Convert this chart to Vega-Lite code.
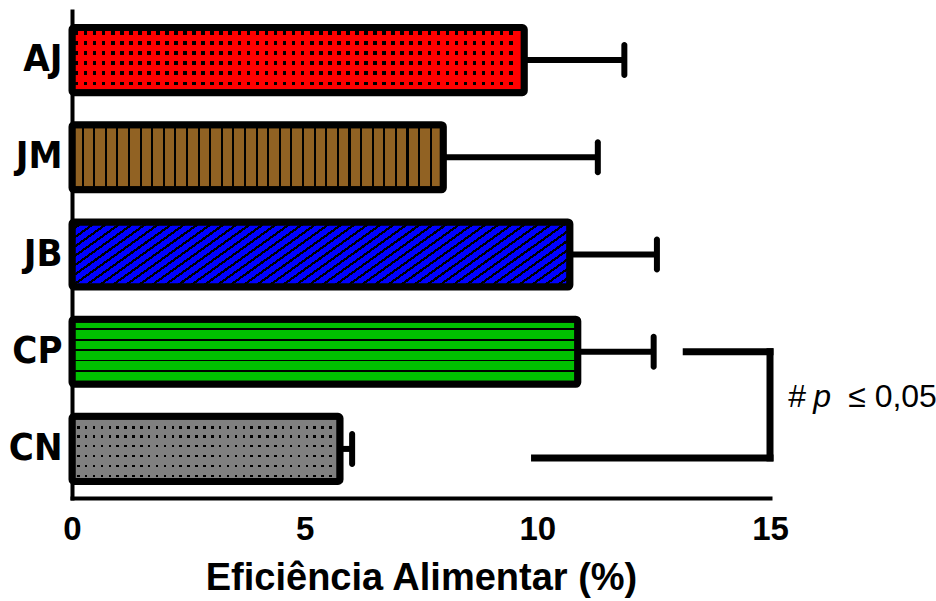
{
  "$schema": "https://vega.github.io/schema/vega-lite/v6.json",
  "width": 698,
  "height": 487,
  "autosize": "none",
  "padding": {"left": 72, "top": 11, "right": 166, "bottom": 103},
  "background": "white",
  "config": {"view": {"stroke": null}, "font": "Liberation Sans"},
  "datasets": {
    "bars": [
      {"group": "AJ", "value": 9.72, "err": 11.87},
      {"group": "JM", "value": 7.98, "err": 11.30},
      {"group": "JB", "value": 10.70, "err": 12.57},
      {"group": "CP", "value": 10.87, "err": 12.50},
      {"group": "CN", "value": 5.76, "err": 6.02}
    ],
    "bracket": [
      {"group": "CP", "x": 13.2, "x2": 15},
      {"group": "CN", "x": 9.94, "x2": 15}
    ],
    "side": [{"group": "CP", "group2": "CN", "x": 15}],
    "note": [
      {"group": "CN", "x": 15.39, "label": "#"},
      {"group": "CN", "x": 15.93, "label": "p"},
      {"group": "CN", "x": 16.68, "label": "≤ 0,05"}
    ]
  },
  "encoding": {
    "y": {
      "field": "group",
      "type": "nominal",
      "scale": {"domain": ["AJ", "JM", "JB", "CP", "CN"], "paddingInner": 0.33, "paddingOuter": 0.17},
      "axis": {
        "title": null,
        "ticks": false,
        "tickSize": 0,
        "labelPadding": 10,
        "labelFont": "DejaVu Sans Condensed",
        "labelFontSize": 38,
        "labelFontWeight": "bold",
        "labelColor": "black",
        "domainColor": "black",
        "domainWidth": 4,
        "domainCap": "square"
      }
    },
    "x": {
      "field": "value",
      "type": "quantitative",
      "title": "Eficiência Alimentar (%)",
      "scale": {"domain": [0, 15], "nice": false},
      "axis": {
        "values": [0, 5, 10, 15],
        "grid": false,
        "ticks": false,
        "tickSize": 0,
        "labelPadding": 15,
        "labelFontSize": 33,
        "labelFontWeight": "bold",
        "labelColor": "black",
        "labelFlush": false,
        "domainColor": "black",
        "domainWidth": 4,
        "domainCap": "square",
        "titleFontSize": 38,
        "titleFontWeight": "bold",
        "titleColor": "black",
        "titleBaseline": "alphabetic",
        "titleY": 91
      }
    }
  },
  "layer": [
    {
      "data": {"name": "bars"},
      "mark": {"type": "rule", "color": "black", "strokeWidth": 6},
      "encoding": {
        "x": {"field": "value", "type": "quantitative", "title": "Eficiência Alimentar (%)"},
        "x2": {"field": "err"}
      }
    },
    {
      "data": {"name": "bars"},
      "mark": {"type": "tick", "color": "black", "size": 36, "thickness": 6, "cornerRadius": 3, "opacity": 1},
      "encoding": {
        "x": {"field": "err", "type": "quantitative", "title": "Eficiência Alimentar (%)"}
      }
    },
    {
      "data": {"name": "bars"},
      "transform": [{"filter": "datum.group === 'AJ'"}],
      "mark": {
        "type": "bar", "strokeWidth": 0, "cornerRadius": 2,
        "fill": {
          "gradient": "linear", "x1": 0, "y1": 0, "x2": 0, "y2": 1,
          "stops": [
            {"offset": 0, "color": "#f00"},
            {"offset": 0.06, "color": "#f00"}, {"offset": 0.06, "color": "#000"}, {"offset": 0.12, "color": "#000"}, {"offset": 0.12, "color": "#f00"},
            {"offset": 0.213, "color": "#f00"}, {"offset": 0.213, "color": "#000"}, {"offset": 0.273, "color": "#000"}, {"offset": 0.273, "color": "#f00"},
            {"offset": 0.367, "color": "#f00"}, {"offset": 0.367, "color": "#000"}, {"offset": 0.427, "color": "#000"}, {"offset": 0.427, "color": "#f00"},
            {"offset": 0.52, "color": "#f00"}, {"offset": 0.52, "color": "#000"}, {"offset": 0.58, "color": "#000"}, {"offset": 0.58, "color": "#f00"},
            {"offset": 0.675, "color": "#f00"}, {"offset": 0.675, "color": "#000"}, {"offset": 0.735, "color": "#000"}, {"offset": 0.735, "color": "#f00"},
            {"offset": 0.83, "color": "#f00"}, {"offset": 0.83, "color": "#000"}, {"offset": 0.89, "color": "#000"}, {"offset": 0.89, "color": "#f00"},
            {"offset": 1, "color": "#f00"}
          ]
        }
      }
    },
    {
      "data": {"name": "bars"},
      "transform": [{"filter": "datum.group === 'AJ'"}],
      "mark": {
        "type": "bar", "stroke": "black", "strokeWidth": 7, "cornerRadius": 2,
        "fill": {
          "gradient": "linear", "x1": 0, "y1": 0, "x2": 1, "y2": 0,
          "stops": [
            {"offset": 0, "color": "#f00"},
            {"offset": 0.006, "color": "#f00"}, {"offset": 0.006, "color": "rgba(0,0,0,0)"}, {"offset": 0.014, "color": "rgba(0,0,0,0)"}, {"offset": 0.014, "color": "#f00"},
            {"offset": 0.026, "color": "#f00"}, {"offset": 0.026, "color": "rgba(0,0,0,0)"}, {"offset": 0.034, "color": "rgba(0,0,0,0)"}, {"offset": 0.034, "color": "#f00"},
            {"offset": 0.046, "color": "#f00"}, {"offset": 0.046, "color": "rgba(0,0,0,0)"}, {"offset": 0.054, "color": "rgba(0,0,0,0)"}, {"offset": 0.054, "color": "#f00"},
            {"offset": 0.066, "color": "#f00"}, {"offset": 0.066, "color": "rgba(0,0,0,0)"}, {"offset": 0.074, "color": "rgba(0,0,0,0)"}, {"offset": 0.074, "color": "#f00"},
            {"offset": 0.086, "color": "#f00"}, {"offset": 0.086, "color": "rgba(0,0,0,0)"}, {"offset": 0.094, "color": "rgba(0,0,0,0)"}, {"offset": 0.094, "color": "#f00"},
            {"offset": 0.106, "color": "#f00"}, {"offset": 0.106, "color": "rgba(0,0,0,0)"}, {"offset": 0.114, "color": "rgba(0,0,0,0)"}, {"offset": 0.114, "color": "#f00"},
            {"offset": 0.126, "color": "#f00"}, {"offset": 0.126, "color": "rgba(0,0,0,0)"}, {"offset": 0.134, "color": "rgba(0,0,0,0)"}, {"offset": 0.134, "color": "#f00"},
            {"offset": 0.146, "color": "#f00"}, {"offset": 0.146, "color": "rgba(0,0,0,0)"}, {"offset": 0.154, "color": "rgba(0,0,0,0)"}, {"offset": 0.154, "color": "#f00"},
            {"offset": 0.166, "color": "#f00"}, {"offset": 0.166, "color": "rgba(0,0,0,0)"}, {"offset": 0.174, "color": "rgba(0,0,0,0)"}, {"offset": 0.174, "color": "#f00"},
            {"offset": 0.186, "color": "#f00"}, {"offset": 0.186, "color": "rgba(0,0,0,0)"}, {"offset": 0.194, "color": "rgba(0,0,0,0)"}, {"offset": 0.194, "color": "#f00"},
            {"offset": 0.206, "color": "#f00"}, {"offset": 0.206, "color": "rgba(0,0,0,0)"}, {"offset": 0.214, "color": "rgba(0,0,0,0)"}, {"offset": 0.214, "color": "#f00"},
            {"offset": 0.226, "color": "#f00"}, {"offset": 0.226, "color": "rgba(0,0,0,0)"}, {"offset": 0.234, "color": "rgba(0,0,0,0)"}, {"offset": 0.234, "color": "#f00"},
            {"offset": 0.246, "color": "#f00"}, {"offset": 0.246, "color": "rgba(0,0,0,0)"}, {"offset": 0.254, "color": "rgba(0,0,0,0)"}, {"offset": 0.254, "color": "#f00"},
            {"offset": 0.266, "color": "#f00"}, {"offset": 0.266, "color": "rgba(0,0,0,0)"}, {"offset": 0.274, "color": "rgba(0,0,0,0)"}, {"offset": 0.274, "color": "#f00"},
            {"offset": 0.286, "color": "#f00"}, {"offset": 0.286, "color": "rgba(0,0,0,0)"}, {"offset": 0.294, "color": "rgba(0,0,0,0)"}, {"offset": 0.294, "color": "#f00"},
            {"offset": 0.306, "color": "#f00"}, {"offset": 0.306, "color": "rgba(0,0,0,0)"}, {"offset": 0.314, "color": "rgba(0,0,0,0)"}, {"offset": 0.314, "color": "#f00"},
            {"offset": 0.326, "color": "#f00"}, {"offset": 0.326, "color": "rgba(0,0,0,0)"}, {"offset": 0.334, "color": "rgba(0,0,0,0)"}, {"offset": 0.334, "color": "#f00"},
            {"offset": 0.346, "color": "#f00"}, {"offset": 0.346, "color": "rgba(0,0,0,0)"}, {"offset": 0.354, "color": "rgba(0,0,0,0)"}, {"offset": 0.354, "color": "#f00"},
            {"offset": 0.366, "color": "#f00"}, {"offset": 0.366, "color": "rgba(0,0,0,0)"}, {"offset": 0.374, "color": "rgba(0,0,0,0)"}, {"offset": 0.374, "color": "#f00"},
            {"offset": 0.386, "color": "#f00"}, {"offset": 0.386, "color": "rgba(0,0,0,0)"}, {"offset": 0.394, "color": "rgba(0,0,0,0)"}, {"offset": 0.394, "color": "#f00"},
            {"offset": 0.406, "color": "#f00"}, {"offset": 0.406, "color": "rgba(0,0,0,0)"}, {"offset": 0.414, "color": "rgba(0,0,0,0)"}, {"offset": 0.414, "color": "#f00"},
            {"offset": 0.426, "color": "#f00"}, {"offset": 0.426, "color": "rgba(0,0,0,0)"}, {"offset": 0.434, "color": "rgba(0,0,0,0)"}, {"offset": 0.434, "color": "#f00"},
            {"offset": 0.446, "color": "#f00"}, {"offset": 0.446, "color": "rgba(0,0,0,0)"}, {"offset": 0.454, "color": "rgba(0,0,0,0)"}, {"offset": 0.454, "color": "#f00"},
            {"offset": 0.466, "color": "#f00"}, {"offset": 0.466, "color": "rgba(0,0,0,0)"}, {"offset": 0.474, "color": "rgba(0,0,0,0)"}, {"offset": 0.474, "color": "#f00"},
            {"offset": 0.486, "color": "#f00"}, {"offset": 0.486, "color": "rgba(0,0,0,0)"}, {"offset": 0.494, "color": "rgba(0,0,0,0)"}, {"offset": 0.494, "color": "#f00"},
            {"offset": 0.506, "color": "#f00"}, {"offset": 0.506, "color": "rgba(0,0,0,0)"}, {"offset": 0.514, "color": "rgba(0,0,0,0)"}, {"offset": 0.514, "color": "#f00"},
            {"offset": 0.526, "color": "#f00"}, {"offset": 0.526, "color": "rgba(0,0,0,0)"}, {"offset": 0.534, "color": "rgba(0,0,0,0)"}, {"offset": 0.534, "color": "#f00"},
            {"offset": 0.546, "color": "#f00"}, {"offset": 0.546, "color": "rgba(0,0,0,0)"}, {"offset": 0.554, "color": "rgba(0,0,0,0)"}, {"offset": 0.554, "color": "#f00"},
            {"offset": 0.566, "color": "#f00"}, {"offset": 0.566, "color": "rgba(0,0,0,0)"}, {"offset": 0.574, "color": "rgba(0,0,0,0)"}, {"offset": 0.574, "color": "#f00"},
            {"offset": 0.586, "color": "#f00"}, {"offset": 0.586, "color": "rgba(0,0,0,0)"}, {"offset": 0.594, "color": "rgba(0,0,0,0)"}, {"offset": 0.594, "color": "#f00"},
            {"offset": 0.606, "color": "#f00"}, {"offset": 0.606, "color": "rgba(0,0,0,0)"}, {"offset": 0.614, "color": "rgba(0,0,0,0)"}, {"offset": 0.614, "color": "#f00"},
            {"offset": 0.626, "color": "#f00"}, {"offset": 0.626, "color": "rgba(0,0,0,0)"}, {"offset": 0.634, "color": "rgba(0,0,0,0)"}, {"offset": 0.634, "color": "#f00"},
            {"offset": 0.646, "color": "#f00"}, {"offset": 0.646, "color": "rgba(0,0,0,0)"}, {"offset": 0.654, "color": "rgba(0,0,0,0)"}, {"offset": 0.654, "color": "#f00"},
            {"offset": 0.666, "color": "#f00"}, {"offset": 0.666, "color": "rgba(0,0,0,0)"}, {"offset": 0.674, "color": "rgba(0,0,0,0)"}, {"offset": 0.674, "color": "#f00"},
            {"offset": 0.686, "color": "#f00"}, {"offset": 0.686, "color": "rgba(0,0,0,0)"}, {"offset": 0.694, "color": "rgba(0,0,0,0)"}, {"offset": 0.694, "color": "#f00"},
            {"offset": 0.706, "color": "#f00"}, {"offset": 0.706, "color": "rgba(0,0,0,0)"}, {"offset": 0.714, "color": "rgba(0,0,0,0)"}, {"offset": 0.714, "color": "#f00"},
            {"offset": 0.726, "color": "#f00"}, {"offset": 0.726, "color": "rgba(0,0,0,0)"}, {"offset": 0.734, "color": "rgba(0,0,0,0)"}, {"offset": 0.734, "color": "#f00"},
            {"offset": 0.746, "color": "#f00"}, {"offset": 0.746, "color": "rgba(0,0,0,0)"}, {"offset": 0.754, "color": "rgba(0,0,0,0)"}, {"offset": 0.754, "color": "#f00"},
            {"offset": 0.766, "color": "#f00"}, {"offset": 0.766, "color": "rgba(0,0,0,0)"}, {"offset": 0.774, "color": "rgba(0,0,0,0)"}, {"offset": 0.774, "color": "#f00"},
            {"offset": 0.786, "color": "#f00"}, {"offset": 0.786, "color": "rgba(0,0,0,0)"}, {"offset": 0.794, "color": "rgba(0,0,0,0)"}, {"offset": 0.794, "color": "#f00"},
            {"offset": 0.806, "color": "#f00"}, {"offset": 0.806, "color": "rgba(0,0,0,0)"}, {"offset": 0.814, "color": "rgba(0,0,0,0)"}, {"offset": 0.814, "color": "#f00"},
            {"offset": 0.826, "color": "#f00"}, {"offset": 0.826, "color": "rgba(0,0,0,0)"}, {"offset": 0.834, "color": "rgba(0,0,0,0)"}, {"offset": 0.834, "color": "#f00"},
            {"offset": 0.846, "color": "#f00"}, {"offset": 0.846, "color": "rgba(0,0,0,0)"}, {"offset": 0.854, "color": "rgba(0,0,0,0)"}, {"offset": 0.854, "color": "#f00"},
            {"offset": 0.866, "color": "#f00"}, {"offset": 0.866, "color": "rgba(0,0,0,0)"}, {"offset": 0.874, "color": "rgba(0,0,0,0)"}, {"offset": 0.874, "color": "#f00"},
            {"offset": 0.886, "color": "#f00"}, {"offset": 0.886, "color": "rgba(0,0,0,0)"}, {"offset": 0.894, "color": "rgba(0,0,0,0)"}, {"offset": 0.894, "color": "#f00"},
            {"offset": 0.906, "color": "#f00"}, {"offset": 0.906, "color": "rgba(0,0,0,0)"}, {"offset": 0.914, "color": "rgba(0,0,0,0)"}, {"offset": 0.914, "color": "#f00"},
            {"offset": 0.926, "color": "#f00"}, {"offset": 0.926, "color": "rgba(0,0,0,0)"}, {"offset": 0.934, "color": "rgba(0,0,0,0)"}, {"offset": 0.934, "color": "#f00"},
            {"offset": 0.946, "color": "#f00"}, {"offset": 0.946, "color": "rgba(0,0,0,0)"}, {"offset": 0.954, "color": "rgba(0,0,0,0)"}, {"offset": 0.954, "color": "#f00"},
            {"offset": 0.966, "color": "#f00"}, {"offset": 0.966, "color": "rgba(0,0,0,0)"}, {"offset": 0.974, "color": "rgba(0,0,0,0)"}, {"offset": 0.974, "color": "#f00"},
            {"offset": 1, "color": "#f00"}
          ]
        }
      }
    },
    {
      "data": {"name": "bars"},
      "transform": [{"filter": "datum.group === 'JM'"}],
      "mark": {
        "type": "bar", "stroke": "black", "strokeWidth": 7, "cornerRadius": 2,
        "fill": {
          "gradient": "linear", "x1": 0, "y1": 0, "x2": 1, "y2": 0,
          "stops": [
            {"offset": 0, "color": "#916223"},
            {"offset": 0.02575, "color": "#916223"}, {"offset": 0.02575, "color": "#000"}, {"offset": 0.03125, "color": "#000"}, {"offset": 0.03125, "color": "#916223"},
            {"offset": 0.057, "color": "#916223"}, {"offset": 0.057, "color": "#000"}, {"offset": 0.0625, "color": "#000"}, {"offset": 0.0625, "color": "#916223"},
            {"offset": 0.08825, "color": "#916223"}, {"offset": 0.08825, "color": "#000"}, {"offset": 0.09375, "color": "#000"}, {"offset": 0.09375, "color": "#916223"},
            {"offset": 0.1195, "color": "#916223"}, {"offset": 0.1195, "color": "#000"}, {"offset": 0.125, "color": "#000"}, {"offset": 0.125, "color": "#916223"},
            {"offset": 0.15075, "color": "#916223"}, {"offset": 0.15075, "color": "#000"}, {"offset": 0.15625, "color": "#000"}, {"offset": 0.15625, "color": "#916223"},
            {"offset": 0.182, "color": "#916223"}, {"offset": 0.182, "color": "#000"}, {"offset": 0.1875, "color": "#000"}, {"offset": 0.1875, "color": "#916223"},
            {"offset": 0.21325, "color": "#916223"}, {"offset": 0.21325, "color": "#000"}, {"offset": 0.21875, "color": "#000"}, {"offset": 0.21875, "color": "#916223"},
            {"offset": 0.2445, "color": "#916223"}, {"offset": 0.2445, "color": "#000"}, {"offset": 0.25, "color": "#000"}, {"offset": 0.25, "color": "#916223"},
            {"offset": 0.27575, "color": "#916223"}, {"offset": 0.27575, "color": "#000"}, {"offset": 0.28125, "color": "#000"}, {"offset": 0.28125, "color": "#916223"},
            {"offset": 0.307, "color": "#916223"}, {"offset": 0.307, "color": "#000"}, {"offset": 0.3125, "color": "#000"}, {"offset": 0.3125, "color": "#916223"},
            {"offset": 0.33825, "color": "#916223"}, {"offset": 0.33825, "color": "#000"}, {"offset": 0.34375, "color": "#000"}, {"offset": 0.34375, "color": "#916223"},
            {"offset": 0.3695, "color": "#916223"}, {"offset": 0.3695, "color": "#000"}, {"offset": 0.375, "color": "#000"}, {"offset": 0.375, "color": "#916223"},
            {"offset": 0.40075, "color": "#916223"}, {"offset": 0.40075, "color": "#000"}, {"offset": 0.40625, "color": "#000"}, {"offset": 0.40625, "color": "#916223"},
            {"offset": 0.432, "color": "#916223"}, {"offset": 0.432, "color": "#000"}, {"offset": 0.4375, "color": "#000"}, {"offset": 0.4375, "color": "#916223"},
            {"offset": 0.46325, "color": "#916223"}, {"offset": 0.46325, "color": "#000"}, {"offset": 0.46875, "color": "#000"}, {"offset": 0.46875, "color": "#916223"},
            {"offset": 0.4945, "color": "#916223"}, {"offset": 0.4945, "color": "#000"}, {"offset": 0.5, "color": "#000"}, {"offset": 0.5, "color": "#916223"},
            {"offset": 0.52575, "color": "#916223"}, {"offset": 0.52575, "color": "#000"}, {"offset": 0.53125, "color": "#000"}, {"offset": 0.53125, "color": "#916223"},
            {"offset": 0.557, "color": "#916223"}, {"offset": 0.557, "color": "#000"}, {"offset": 0.5625, "color": "#000"}, {"offset": 0.5625, "color": "#916223"},
            {"offset": 0.58825, "color": "#916223"}, {"offset": 0.58825, "color": "#000"}, {"offset": 0.59375, "color": "#000"}, {"offset": 0.59375, "color": "#916223"},
            {"offset": 0.6195, "color": "#916223"}, {"offset": 0.6195, "color": "#000"}, {"offset": 0.625, "color": "#000"}, {"offset": 0.625, "color": "#916223"},
            {"offset": 0.65075, "color": "#916223"}, {"offset": 0.65075, "color": "#000"}, {"offset": 0.65625, "color": "#000"}, {"offset": 0.65625, "color": "#916223"},
            {"offset": 0.682, "color": "#916223"}, {"offset": 0.682, "color": "#000"}, {"offset": 0.6875, "color": "#000"}, {"offset": 0.6875, "color": "#916223"},
            {"offset": 0.71325, "color": "#916223"}, {"offset": 0.71325, "color": "#000"}, {"offset": 0.71875, "color": "#000"}, {"offset": 0.71875, "color": "#916223"},
            {"offset": 0.7445, "color": "#916223"}, {"offset": 0.7445, "color": "#000"}, {"offset": 0.75, "color": "#000"}, {"offset": 0.75, "color": "#916223"},
            {"offset": 0.77575, "color": "#916223"}, {"offset": 0.77575, "color": "#000"}, {"offset": 0.78125, "color": "#000"}, {"offset": 0.78125, "color": "#916223"},
            {"offset": 0.807, "color": "#916223"}, {"offset": 0.807, "color": "#000"}, {"offset": 0.8125, "color": "#000"}, {"offset": 0.8125, "color": "#916223"},
            {"offset": 0.83825, "color": "#916223"}, {"offset": 0.83825, "color": "#000"}, {"offset": 0.84375, "color": "#000"}, {"offset": 0.84375, "color": "#916223"},
            {"offset": 0.8695, "color": "#916223"}, {"offset": 0.8695, "color": "#000"}, {"offset": 0.875, "color": "#000"}, {"offset": 0.875, "color": "#916223"},
            {"offset": 0.90075, "color": "#916223"}, {"offset": 0.90075, "color": "#000"}, {"offset": 0.90625, "color": "#000"}, {"offset": 0.90625, "color": "#916223"},
            {"offset": 0.932, "color": "#916223"}, {"offset": 0.932, "color": "#000"}, {"offset": 0.9375, "color": "#000"}, {"offset": 0.9375, "color": "#916223"},
            {"offset": 0.96325, "color": "#916223"}, {"offset": 0.96325, "color": "#000"}, {"offset": 0.96875, "color": "#000"}, {"offset": 0.96875, "color": "#916223"},
            {"offset": 1, "color": "#916223"}
          ]
        }
      }
    },
    {
      "data": {"name": "bars"},
      "transform": [{"filter": "datum.group === 'JB'"}],
      "mark": {
        "type": "bar", "stroke": "black", "strokeWidth": 7, "cornerRadius": 2,
        "fill": {
          "gradient": "linear", "x1": 0, "y1": 0, "x2": 1.1449, "y2": 0.2099,
          "stops": [
            {"offset": 0, "color": "#0000ff"},
            {"offset": 0.01572, "color": "#0000ff"}, {"offset": 0.01572, "color": "#000"}, {"offset": 0.02222, "color": "#000"}, {"offset": 0.02222, "color": "#0000ff"},
            {"offset": 0.03794, "color": "#0000ff"}, {"offset": 0.03794, "color": "#000"}, {"offset": 0.04444, "color": "#000"}, {"offset": 0.04444, "color": "#0000ff"},
            {"offset": 0.06017, "color": "#0000ff"}, {"offset": 0.06017, "color": "#000"}, {"offset": 0.06667, "color": "#000"}, {"offset": 0.06667, "color": "#0000ff"},
            {"offset": 0.08239, "color": "#0000ff"}, {"offset": 0.08239, "color": "#000"}, {"offset": 0.08889, "color": "#000"}, {"offset": 0.08889, "color": "#0000ff"},
            {"offset": 0.10461, "color": "#0000ff"}, {"offset": 0.10461, "color": "#000"}, {"offset": 0.11111, "color": "#000"}, {"offset": 0.11111, "color": "#0000ff"},
            {"offset": 0.12683, "color": "#0000ff"}, {"offset": 0.12683, "color": "#000"}, {"offset": 0.13333, "color": "#000"}, {"offset": 0.13333, "color": "#0000ff"},
            {"offset": 0.14906, "color": "#0000ff"}, {"offset": 0.14906, "color": "#000"}, {"offset": 0.15556, "color": "#000"}, {"offset": 0.15556, "color": "#0000ff"},
            {"offset": 0.17128, "color": "#0000ff"}, {"offset": 0.17128, "color": "#000"}, {"offset": 0.17778, "color": "#000"}, {"offset": 0.17778, "color": "#0000ff"},
            {"offset": 0.1935, "color": "#0000ff"}, {"offset": 0.1935, "color": "#000"}, {"offset": 0.2, "color": "#000"}, {"offset": 0.2, "color": "#0000ff"},
            {"offset": 0.21572, "color": "#0000ff"}, {"offset": 0.21572, "color": "#000"}, {"offset": 0.22222, "color": "#000"}, {"offset": 0.22222, "color": "#0000ff"},
            {"offset": 0.23794, "color": "#0000ff"}, {"offset": 0.23794, "color": "#000"}, {"offset": 0.24444, "color": "#000"}, {"offset": 0.24444, "color": "#0000ff"},
            {"offset": 0.26017, "color": "#0000ff"}, {"offset": 0.26017, "color": "#000"}, {"offset": 0.26667, "color": "#000"}, {"offset": 0.26667, "color": "#0000ff"},
            {"offset": 0.28239, "color": "#0000ff"}, {"offset": 0.28239, "color": "#000"}, {"offset": 0.28889, "color": "#000"}, {"offset": 0.28889, "color": "#0000ff"},
            {"offset": 0.30461, "color": "#0000ff"}, {"offset": 0.30461, "color": "#000"}, {"offset": 0.31111, "color": "#000"}, {"offset": 0.31111, "color": "#0000ff"},
            {"offset": 0.32683, "color": "#0000ff"}, {"offset": 0.32683, "color": "#000"}, {"offset": 0.33333, "color": "#000"}, {"offset": 0.33333, "color": "#0000ff"},
            {"offset": 0.34906, "color": "#0000ff"}, {"offset": 0.34906, "color": "#000"}, {"offset": 0.35556, "color": "#000"}, {"offset": 0.35556, "color": "#0000ff"},
            {"offset": 0.37128, "color": "#0000ff"}, {"offset": 0.37128, "color": "#000"}, {"offset": 0.37778, "color": "#000"}, {"offset": 0.37778, "color": "#0000ff"},
            {"offset": 0.3935, "color": "#0000ff"}, {"offset": 0.3935, "color": "#000"}, {"offset": 0.4, "color": "#000"}, {"offset": 0.4, "color": "#0000ff"},
            {"offset": 0.41572, "color": "#0000ff"}, {"offset": 0.41572, "color": "#000"}, {"offset": 0.42222, "color": "#000"}, {"offset": 0.42222, "color": "#0000ff"},
            {"offset": 0.43794, "color": "#0000ff"}, {"offset": 0.43794, "color": "#000"}, {"offset": 0.44444, "color": "#000"}, {"offset": 0.44444, "color": "#0000ff"},
            {"offset": 0.46017, "color": "#0000ff"}, {"offset": 0.46017, "color": "#000"}, {"offset": 0.46667, "color": "#000"}, {"offset": 0.46667, "color": "#0000ff"},
            {"offset": 0.48239, "color": "#0000ff"}, {"offset": 0.48239, "color": "#000"}, {"offset": 0.48889, "color": "#000"}, {"offset": 0.48889, "color": "#0000ff"},
            {"offset": 0.50461, "color": "#0000ff"}, {"offset": 0.50461, "color": "#000"}, {"offset": 0.51111, "color": "#000"}, {"offset": 0.51111, "color": "#0000ff"},
            {"offset": 0.52683, "color": "#0000ff"}, {"offset": 0.52683, "color": "#000"}, {"offset": 0.53333, "color": "#000"}, {"offset": 0.53333, "color": "#0000ff"},
            {"offset": 0.54906, "color": "#0000ff"}, {"offset": 0.54906, "color": "#000"}, {"offset": 0.55556, "color": "#000"}, {"offset": 0.55556, "color": "#0000ff"},
            {"offset": 0.57128, "color": "#0000ff"}, {"offset": 0.57128, "color": "#000"}, {"offset": 0.57778, "color": "#000"}, {"offset": 0.57778, "color": "#0000ff"},
            {"offset": 0.5935, "color": "#0000ff"}, {"offset": 0.5935, "color": "#000"}, {"offset": 0.6, "color": "#000"}, {"offset": 0.6, "color": "#0000ff"},
            {"offset": 0.61572, "color": "#0000ff"}, {"offset": 0.61572, "color": "#000"}, {"offset": 0.62222, "color": "#000"}, {"offset": 0.62222, "color": "#0000ff"},
            {"offset": 0.63794, "color": "#0000ff"}, {"offset": 0.63794, "color": "#000"}, {"offset": 0.64444, "color": "#000"}, {"offset": 0.64444, "color": "#0000ff"},
            {"offset": 0.66017, "color": "#0000ff"}, {"offset": 0.66017, "color": "#000"}, {"offset": 0.66667, "color": "#000"}, {"offset": 0.66667, "color": "#0000ff"},
            {"offset": 0.68239, "color": "#0000ff"}, {"offset": 0.68239, "color": "#000"}, {"offset": 0.68889, "color": "#000"}, {"offset": 0.68889, "color": "#0000ff"},
            {"offset": 0.70461, "color": "#0000ff"}, {"offset": 0.70461, "color": "#000"}, {"offset": 0.71111, "color": "#000"}, {"offset": 0.71111, "color": "#0000ff"},
            {"offset": 0.72683, "color": "#0000ff"}, {"offset": 0.72683, "color": "#000"}, {"offset": 0.73333, "color": "#000"}, {"offset": 0.73333, "color": "#0000ff"},
            {"offset": 0.74906, "color": "#0000ff"}, {"offset": 0.74906, "color": "#000"}, {"offset": 0.75556, "color": "#000"}, {"offset": 0.75556, "color": "#0000ff"},
            {"offset": 0.77128, "color": "#0000ff"}, {"offset": 0.77128, "color": "#000"}, {"offset": 0.77778, "color": "#000"}, {"offset": 0.77778, "color": "#0000ff"},
            {"offset": 0.7935, "color": "#0000ff"}, {"offset": 0.7935, "color": "#000"}, {"offset": 0.8, "color": "#000"}, {"offset": 0.8, "color": "#0000ff"},
            {"offset": 0.81572, "color": "#0000ff"}, {"offset": 0.81572, "color": "#000"}, {"offset": 0.82222, "color": "#000"}, {"offset": 0.82222, "color": "#0000ff"},
            {"offset": 0.83794, "color": "#0000ff"}, {"offset": 0.83794, "color": "#000"}, {"offset": 0.84444, "color": "#000"}, {"offset": 0.84444, "color": "#0000ff"},
            {"offset": 0.86017, "color": "#0000ff"}, {"offset": 0.86017, "color": "#000"}, {"offset": 0.86667, "color": "#000"}, {"offset": 0.86667, "color": "#0000ff"},
            {"offset": 0.88239, "color": "#0000ff"}, {"offset": 0.88239, "color": "#000"}, {"offset": 0.88889, "color": "#000"}, {"offset": 0.88889, "color": "#0000ff"},
            {"offset": 0.90461, "color": "#0000ff"}, {"offset": 0.90461, "color": "#000"}, {"offset": 0.91111, "color": "#000"}, {"offset": 0.91111, "color": "#0000ff"},
            {"offset": 0.92683, "color": "#0000ff"}, {"offset": 0.92683, "color": "#000"}, {"offset": 0.93333, "color": "#000"}, {"offset": 0.93333, "color": "#0000ff"},
            {"offset": 0.94906, "color": "#0000ff"}, {"offset": 0.94906, "color": "#000"}, {"offset": 0.95556, "color": "#000"}, {"offset": 0.95556, "color": "#0000ff"},
            {"offset": 0.97128, "color": "#0000ff"}, {"offset": 0.97128, "color": "#000"}, {"offset": 0.97778, "color": "#000"}, {"offset": 0.97778, "color": "#0000ff"},
            {"offset": 1, "color": "#0000ff"}
          ]
        }
      }
    },
    {
      "data": {"name": "bars"},
      "transform": [{"filter": "datum.group === 'CP'"}],
      "mark": {
        "type": "bar", "stroke": "black", "strokeWidth": 7, "cornerRadius": 2,
        "fill": {
          "gradient": "linear", "x1": 0, "y1": 0, "x2": 0, "y2": 1,
          "stops": [
            {"offset": 0, "color": "#00c000"},
            {"offset": 0.14, "color": "#00c000"}, {"offset": 0.14, "color": "#000"}, {"offset": 0.17, "color": "#000"}, {"offset": 0.17, "color": "#00c000"},
            {"offset": 0.30, "color": "#00c000"}, {"offset": 0.30, "color": "#000"}, {"offset": 0.33, "color": "#000"}, {"offset": 0.33, "color": "#00c000"},
            {"offset": 0.46, "color": "#00c000"}, {"offset": 0.46, "color": "#000"}, {"offset": 0.49, "color": "#000"}, {"offset": 0.49, "color": "#00c000"},
            {"offset": 0.62, "color": "#00c000"}, {"offset": 0.62, "color": "#000"}, {"offset": 0.65, "color": "#000"}, {"offset": 0.65, "color": "#00c000"},
            {"offset": 0.78, "color": "#00c000"}, {"offset": 0.78, "color": "#000"}, {"offset": 0.81, "color": "#000"}, {"offset": 0.81, "color": "#00c000"},
            {"offset": 1, "color": "#00c000"}
          ]
        }
      }
    },
    {
      "data": {"name": "bars"},
      "transform": [{"filter": "datum.group === 'CN'"}],
      "mark": {
        "type": "bar", "strokeWidth": 0, "cornerRadius": 2,
        "fill": {
          "gradient": "linear", "x1": 0, "y1": 0, "x2": 0, "y2": 1,
          "stops": [
            {"offset": 0, "color": "#808080"},
            {"offset": 0.155, "color": "#808080"}, {"offset": 0.155, "color": "#000"}, {"offset": 0.195, "color": "#000"}, {"offset": 0.195, "color": "#808080"},
            {"offset": 0.294, "color": "#808080"}, {"offset": 0.294, "color": "#000"}, {"offset": 0.334, "color": "#000"}, {"offset": 0.334, "color": "#808080"},
            {"offset": 0.437, "color": "#808080"}, {"offset": 0.437, "color": "#000"}, {"offset": 0.477, "color": "#000"}, {"offset": 0.477, "color": "#808080"},
            {"offset": 0.586, "color": "#808080"}, {"offset": 0.586, "color": "#000"}, {"offset": 0.626, "color": "#000"}, {"offset": 0.626, "color": "#808080"},
            {"offset": 0.74, "color": "#808080"}, {"offset": 0.74, "color": "#000"}, {"offset": 0.78, "color": "#000"}, {"offset": 0.78, "color": "#808080"},
            {"offset": 0.894, "color": "#808080"}, {"offset": 0.894, "color": "#000"}, {"offset": 0.934, "color": "#000"}, {"offset": 0.934, "color": "#808080"},
            {"offset": 1, "color": "#808080"}
          ]
        }
      }
    },
    {
      "data": {"name": "bars"},
      "transform": [{"filter": "datum.group === 'CN'"}],
      "mark": {
        "type": "bar", "stroke": "black", "strokeWidth": 7, "cornerRadius": 2,
        "fill": {
          "gradient": "linear", "x1": 0, "y1": 0, "x2": 1, "y2": 0,
          "stops": [
            {"offset": 0, "color": "#808080"},
            {"offset": 0.0188, "color": "#808080"}, {"offset": 0.0188, "color": "rgba(0,0,0,0)"}, {"offset": 0.0282, "color": "rgba(0,0,0,0)"}, {"offset": 0.0282, "color": "#808080"},
            {"offset": 0.0482, "color": "#808080"}, {"offset": 0.0482, "color": "rgba(0,0,0,0)"}, {"offset": 0.0576, "color": "rgba(0,0,0,0)"}, {"offset": 0.0576, "color": "#808080"},
            {"offset": 0.0776, "color": "#808080"}, {"offset": 0.0776, "color": "rgba(0,0,0,0)"}, {"offset": 0.087, "color": "rgba(0,0,0,0)"}, {"offset": 0.087, "color": "#808080"},
            {"offset": 0.107, "color": "#808080"}, {"offset": 0.107, "color": "rgba(0,0,0,0)"}, {"offset": 0.1164, "color": "rgba(0,0,0,0)"}, {"offset": 0.1164, "color": "#808080"},
            {"offset": 0.1364, "color": "#808080"}, {"offset": 0.1364, "color": "rgba(0,0,0,0)"}, {"offset": 0.1458, "color": "rgba(0,0,0,0)"}, {"offset": 0.1458, "color": "#808080"},
            {"offset": 0.1658, "color": "#808080"}, {"offset": 0.1658, "color": "rgba(0,0,0,0)"}, {"offset": 0.1752, "color": "rgba(0,0,0,0)"}, {"offset": 0.1752, "color": "#808080"},
            {"offset": 0.1952, "color": "#808080"}, {"offset": 0.1952, "color": "rgba(0,0,0,0)"}, {"offset": 0.2046, "color": "rgba(0,0,0,0)"}, {"offset": 0.2046, "color": "#808080"},
            {"offset": 0.2246, "color": "#808080"}, {"offset": 0.2246, "color": "rgba(0,0,0,0)"}, {"offset": 0.234, "color": "rgba(0,0,0,0)"}, {"offset": 0.234, "color": "#808080"},
            {"offset": 0.254, "color": "#808080"}, {"offset": 0.254, "color": "rgba(0,0,0,0)"}, {"offset": 0.2634, "color": "rgba(0,0,0,0)"}, {"offset": 0.2634, "color": "#808080"},
            {"offset": 0.2834, "color": "#808080"}, {"offset": 0.2834, "color": "rgba(0,0,0,0)"}, {"offset": 0.2928, "color": "rgba(0,0,0,0)"}, {"offset": 0.2928, "color": "#808080"},
            {"offset": 0.3128, "color": "#808080"}, {"offset": 0.3128, "color": "rgba(0,0,0,0)"}, {"offset": 0.3222, "color": "rgba(0,0,0,0)"}, {"offset": 0.3222, "color": "#808080"},
            {"offset": 0.3422, "color": "#808080"}, {"offset": 0.3422, "color": "rgba(0,0,0,0)"}, {"offset": 0.3516, "color": "rgba(0,0,0,0)"}, {"offset": 0.3516, "color": "#808080"},
            {"offset": 0.3716, "color": "#808080"}, {"offset": 0.3716, "color": "rgba(0,0,0,0)"}, {"offset": 0.381, "color": "rgba(0,0,0,0)"}, {"offset": 0.381, "color": "#808080"},
            {"offset": 0.401, "color": "#808080"}, {"offset": 0.401, "color": "rgba(0,0,0,0)"}, {"offset": 0.4104, "color": "rgba(0,0,0,0)"}, {"offset": 0.4104, "color": "#808080"},
            {"offset": 0.4304, "color": "#808080"}, {"offset": 0.4304, "color": "rgba(0,0,0,0)"}, {"offset": 0.4398, "color": "rgba(0,0,0,0)"}, {"offset": 0.4398, "color": "#808080"},
            {"offset": 0.4598, "color": "#808080"}, {"offset": 0.4598, "color": "rgba(0,0,0,0)"}, {"offset": 0.4692, "color": "rgba(0,0,0,0)"}, {"offset": 0.4692, "color": "#808080"},
            {"offset": 0.4892, "color": "#808080"}, {"offset": 0.4892, "color": "rgba(0,0,0,0)"}, {"offset": 0.4986, "color": "rgba(0,0,0,0)"}, {"offset": 0.4986, "color": "#808080"},
            {"offset": 0.5186, "color": "#808080"}, {"offset": 0.5186, "color": "rgba(0,0,0,0)"}, {"offset": 0.528, "color": "rgba(0,0,0,0)"}, {"offset": 0.528, "color": "#808080"},
            {"offset": 0.548, "color": "#808080"}, {"offset": 0.548, "color": "rgba(0,0,0,0)"}, {"offset": 0.5574, "color": "rgba(0,0,0,0)"}, {"offset": 0.5574, "color": "#808080"},
            {"offset": 0.5774, "color": "#808080"}, {"offset": 0.5774, "color": "rgba(0,0,0,0)"}, {"offset": 0.5868, "color": "rgba(0,0,0,0)"}, {"offset": 0.5868, "color": "#808080"},
            {"offset": 0.6068, "color": "#808080"}, {"offset": 0.6068, "color": "rgba(0,0,0,0)"}, {"offset": 0.6162, "color": "rgba(0,0,0,0)"}, {"offset": 0.6162, "color": "#808080"},
            {"offset": 0.6362, "color": "#808080"}, {"offset": 0.6362, "color": "rgba(0,0,0,0)"}, {"offset": 0.6456, "color": "rgba(0,0,0,0)"}, {"offset": 0.6456, "color": "#808080"},
            {"offset": 0.6656, "color": "#808080"}, {"offset": 0.6656, "color": "rgba(0,0,0,0)"}, {"offset": 0.675, "color": "rgba(0,0,0,0)"}, {"offset": 0.675, "color": "#808080"},
            {"offset": 0.695, "color": "#808080"}, {"offset": 0.695, "color": "rgba(0,0,0,0)"}, {"offset": 0.7044, "color": "rgba(0,0,0,0)"}, {"offset": 0.7044, "color": "#808080"},
            {"offset": 0.7244, "color": "#808080"}, {"offset": 0.7244, "color": "rgba(0,0,0,0)"}, {"offset": 0.7338, "color": "rgba(0,0,0,0)"}, {"offset": 0.7338, "color": "#808080"},
            {"offset": 0.7538, "color": "#808080"}, {"offset": 0.7538, "color": "rgba(0,0,0,0)"}, {"offset": 0.7632, "color": "rgba(0,0,0,0)"}, {"offset": 0.7632, "color": "#808080"},
            {"offset": 0.7832, "color": "#808080"}, {"offset": 0.7832, "color": "rgba(0,0,0,0)"}, {"offset": 0.7926, "color": "rgba(0,0,0,0)"}, {"offset": 0.7926, "color": "#808080"},
            {"offset": 0.8126, "color": "#808080"}, {"offset": 0.8126, "color": "rgba(0,0,0,0)"}, {"offset": 0.822, "color": "rgba(0,0,0,0)"}, {"offset": 0.822, "color": "#808080"},
            {"offset": 0.842, "color": "#808080"}, {"offset": 0.842, "color": "rgba(0,0,0,0)"}, {"offset": 0.8514, "color": "rgba(0,0,0,0)"}, {"offset": 0.8514, "color": "#808080"},
            {"offset": 0.8714, "color": "#808080"}, {"offset": 0.8714, "color": "rgba(0,0,0,0)"}, {"offset": 0.8808, "color": "rgba(0,0,0,0)"}, {"offset": 0.8808, "color": "#808080"},
            {"offset": 0.9008, "color": "#808080"}, {"offset": 0.9008, "color": "rgba(0,0,0,0)"}, {"offset": 0.9102, "color": "rgba(0,0,0,0)"}, {"offset": 0.9102, "color": "#808080"},
            {"offset": 0.9302, "color": "#808080"}, {"offset": 0.9302, "color": "rgba(0,0,0,0)"}, {"offset": 0.9396, "color": "rgba(0,0,0,0)"}, {"offset": 0.9396, "color": "#808080"},
            {"offset": 0.9596, "color": "#808080"}, {"offset": 0.9596, "color": "rgba(0,0,0,0)"}, {"offset": 0.969, "color": "rgba(0,0,0,0)"}, {"offset": 0.969, "color": "#808080"},
            {"offset": 1, "color": "#808080"}
          ]
        }
      }
    },
    {
      "data": {"name": "bracket"},
      "transform": [{"filter": "datum.group === 'CP'"}],
      "mark": {"type": "rule", "color": "black", "strokeWidth": 7, "strokeCap": "square"},
      "encoding": {
        "x": {"field": "x", "type": "quantitative", "title": "Eficiência Alimentar (%)"},
        "x2": {"field": "x2"}
      }
    },
    {
      "data": {"name": "bracket"},
      "transform": [{"filter": "datum.group === 'CN'"}],
      "mark": {"type": "rule", "color": "black", "strokeWidth": 7, "strokeCap": "square", "yOffset": 9},
      "encoding": {
        "x": {"field": "x", "type": "quantitative", "title": "Eficiência Alimentar (%)"},
        "x2": {"field": "x2"}
      }
    },
    {
      "data": {"name": "side"},
      "mark": {"type": "rule", "color": "black", "strokeWidth": 7, "strokeCap": "square", "y2Offset": 9},
      "encoding": {
        "x": {"field": "x", "type": "quantitative", "title": "Eficiência Alimentar (%)"},
        "y2": {"field": "group2"}
      }
    },
    {
      "data": {"name": "note"},
      "transform": [{"filter": "datum.label !== 'p'"}],
      "mark": {"type": "text", "align": "left", "baseline": "alphabetic", "fontSize": 32, "color": "black", "yOffset": -42, "font": "Liberation Sans"},
      "encoding": {
        "x": {"field": "x", "type": "quantitative", "title": "Eficiência Alimentar (%)"},
        "text": {"field": "label"}
      }
    },
    {
      "data": {"name": "note"},
      "transform": [{"filter": "datum.label === 'p'"}],
      "mark": {"type": "text", "align": "left", "baseline": "alphabetic", "fontSize": 32, "fontStyle": "italic", "color": "black", "yOffset": -42, "font": "Liberation Sans"},
      "encoding": {
        "x": {"field": "x", "type": "quantitative", "title": "Eficiência Alimentar (%)"},
        "text": {"field": "label"}
      }
    }
  ]
}
